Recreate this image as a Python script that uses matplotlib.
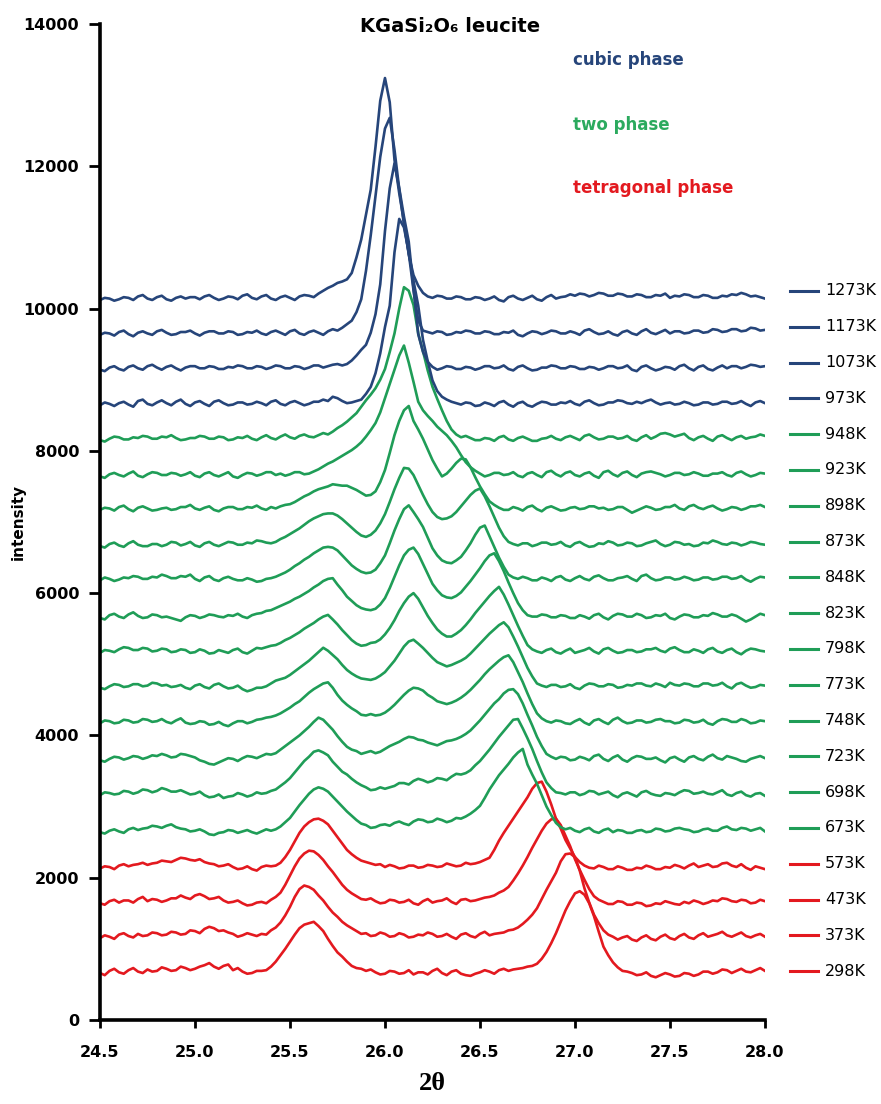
import numpy as np
import matplotlib
matplotlib.use("Agg")
import matplotlib.pyplot as plt

# 2-theta positions of the scan points (deg), step 0.025
two_theta = np.round(np.linspace(24.5, 28.0, 141), 3)

temps = ["298K", "373K", "473K", "573K", "673K", "698K", "723K", "748K", "773K", "798K",
         "823K", "848K", "873K", "898K", "923K", "948K", "973K", "1073K", "1173K", "1273K"]
phases = ["tetragonal"] * 4 + ["two"] * 12 + ["cubic"] * 4
# vertical offset of each pattern (counts)
offsets = [660, 1150, 1640, 2130, 2640, 3160, 3650, 4170, 4670, 5160,
           5650, 6180, 6660, 7170, 7640, 8150, 8640, 9140, 9630, 10120]

# counts above the offset (20 points = 0.5 deg per line)
p298 = [0, -30, 30, 60, 10, -10, 40, 70, 20, 0, 50, 20, 30, 80, 60, 30, 40, 90, 70, 40,
        60, 90, 110, 140, 90, 60, 100, 120, 40, 70, 20, -10, 0, 30, 30, 40, 90, 160, 250, 340,
        440, 540, 630, 680, 700, 720, 660, 590, 480, 380, 290, 230, 160, 100, 70, 60, 30, 50, 10, -20,
        -10, 30, 20, -10, 0, 40, -20, 10, 10, -20, 30, 60, 0, -30, 20, 40, -10, -30, -40, -10,
        10, 40, 20, -10, 40, 60, 30, 50, 60, 70, 90, 100, 130, 200, 296, 420, 560, 720, 880, 1010,
        1120, 1150, 1100, 980, 800, 580, 370, 250, 150, 80, 30, 20, 0, -30, -20, 10, -40, -60, -30, 0,
        -20, -50, -40, 0, -10, -40, -20, 20, 20, -10, 10, 50, 40, 0, 30, 60, 20, 10, 40, 70,
        30]
p373 = [0, 40, 20, -10, 50, 70, 30, 10, 60, 30, 40, 80, 70, 40, 50, 90, 80, 50, 60, 110,
        100, 70, 130, 160, 140, 100, 110, 80, 60, 20, 40, 70, 50, 30, 60, 50, 110, 150, 220, 320,
        440, 580, 690, 740, 720, 680, 600, 530, 440, 360, 300, 230, 180, 140, 100, 60, 70, 30, 40, 80,
        60, 20, 30, 70, 50, 10, 20, 50, 40, 80, 60, 20, 30, 60, 20, -10, 50, 70, 30, 10,
        60, 90, 40, 60, 70, 80, 110, 120, 150, 200, 260, 330, 420, 550, 680, 800, 920, 1080, 1180, 1190,
        1140, 950, 700, 500, 330, 210, 110, 50, 20, -20, 10, 30, -20, -40, 10, 40, -10, -30, 20, 50,
        0, -20, 30, 60, 10, -10, 40, 70, 20, 40, 60, 90, 40, 20, 50, 80, 30, 10, 40, 60,
        20]
p473 = [0, -20, 30, 50, 10, 40, 40, 10, 60, 90, 30, 60, 50, 20, 40, 70, 70, 110, 80, 60,
        110, 130, 100, 60, 70, 90, 40, 10, 20, 40, 0, -30, -20, 10, 20, 0, 50, 90, 150, 260,
        390, 520, 630, 700, 740, 730, 680, 610, 520, 440, 350, 260, 190, 140, 100, 60, 50, 70, 30, 0,
        10, 50, 40, 10, 20, 50, 0, -20, 30, 60, 10, 30, 40, 70, 20, -10, 50, 60, 30, 40,
        60, 80, 90, 110, 150, 180, 230, 320, 420, 530, 650, 780, 900, 1020, 1120, 1180, 1190, 1100, 950, 800,
        620, 470, 330, 200, 100, 50, 20, -10, -10, 30, 20, -20, -20, 10, 0, -40, -30, 0, -10, 30,
        10, -10, -20, 20, 0, 40, 20, -10, 10, 40, 30, 70, 60, 30, 20, 50, 40, 0, 10, 50,
        30]
p573 = [0, 30, 20, -10, 40, 60, 30, 50, 60, 80, 50, 70, 80, 110, 100, 90, 120, 150, 140, 120,
        110, 130, 90, 70, 60, 30, 40, 60, 20, -10, 0, 30, -10, -30, 20, 40, 30, 40, 80, 160,
        260, 380, 500, 590, 650, 690, 700, 670, 620, 530, 440, 350, 260, 200, 150, 110, 90, 70, 50, 60,
        20, 50, 30, 0, 10, 40, 40, 10, 20, 50, 40, 20, 30, 70, 50, 30, 40, 80, 60, 70,
        90, 120, 150, 260, 390, 500, 600, 700, 800, 900, 1000, 1120, 1200, 1220, 1080, 900, 700, 560, 400, 280,
        160, 90, 40, 10, 0, 40, 20, -10, -10, 30, 10, -20, -20, 10, 0, 40, 20, -10, -10, 20,
        10, 50, 30, 0, 40, 70, 20, 40, 60, 20, 30, 70, 80, 40, 20, 60, 10, -20, 30, 10,
        -10]
p673 = [0, -20, 20, 40, 10, -10, 40, 60, 30, 50, 60, 90, 80, 60, 90, 110, 70, 50, 40, 10,
        20, 40, 10, -30, -40, -10, 0, 30, 20, -10, 10, 30, 0, -20, 10, 40, 20, 40, 80, 140,
        200, 290, 380, 460, 540, 600, 630, 610, 570, 500, 430, 360, 290, 230, 170, 120, 100, 60, 70, 100,
        110, 90, 130, 150, 120, 100, 150, 180, 170, 140, 150, 190, 170, 140, 160, 200, 190, 220, 260, 310,
        370, 480, 600, 700, 800, 880, 960, 1050, 1120, 1170, 950, 810, 680, 520, 360, 240, 130, 70, 40, 60,
        20, 0, 40, 60, 10, -10, 30, 50, 0, 30, 20, -10, -10, 20, 30, 0, 10, 50, 40, 10,
        20, 50, 60, 40, 30, 0, 10, 40, 50, 20, 20, 60, 80, 40, 30, 60, 50, 20, 40, 60,
        10]
p698 = [0, 40, 30, 10, 20, 60, 50, 20, 40, 80, 70, 40, 60, 100, 80, 50, 50, 70, 40, 10,
        20, 50, 0, -30, -20, 10, -40, -20, -10, 30, 10, -20, 0, 40, 20, 30, 60, 80, 130, 180,
        240, 320, 400, 480, 540, 610, 630, 600, 560, 470, 400, 330, 290, 230, 180, 140, 110, 70, 80, 110,
        90, 110, 130, 170, 170, 150, 200, 230, 210, 180, 200, 240, 230, 210, 260, 300, 290, 310, 350, 420,
        480, 560, 640, 730, 820, 900, 980, 1060, 1070, 940, 800, 650, 480, 320, 180, 100, 40, 30, 10, 40,
        40, 0, 20, 60, 50, 10, 30, 50, 0, -30, 20, 40, 10, -20, 40, 60, 20, 0, -10, 30,
        20, 0, 40, 70, 60, 20, 30, 50, 20, 10, 40, 70, 10, -10, 30, 50, 0, -20, 20, 30,
        -10]
p723 = [0, -20, 20, 50, 40, 10, 30, 60, 50, 20, 40, 70, 60, 90, 70, 40, 50, 90, 80, 60,
        40, 0, -20, -50, -60, -30, 0, 30, 20, -10, 30, 60, 50, 30, 60, 90, 80, 100, 150, 200,
        250, 300, 350, 410, 470, 540, 600, 570, 500, 430, 340, 260, 190, 150, 130, 90, 110, 130, 100, 120,
        160, 200, 230, 260, 300, 330, 320, 290, 280, 250, 230, 210, 240, 270, 280, 300, 330, 370, 420, 490,
        560, 640, 720, 800, 860, 940, 990, 1000, 930, 800, 640, 490, 330, 200, 90, 50, 20, 50, 40, 0,
        10, 50, 30, 0, 60, 80, 20, -10, 40, 70, 10, -20, 30, 60, 50, 20, 20, 40, 0, -30,
        30, 50, 10, -20, 40, 60, 20, 0, 50, 80, 30, 10, 60, 40, 20, -10, -20, 20, 40, 60,
        30]
p748 = [0, 40, 30, 0, 10, 50, 40, 10, 20, 60, 50, 20, 30, 60, 20, 0, 40, 70, 10, -10,
        0, 30, 20, -20, -10, 20, -20, -40, 0, 30, 30, 0, 20, 50, 60, 80, 90, 110, 140, 180,
        220, 270, 310, 370, 430, 480, 520, 560, 576, 500, 400, 320, 260, 210, 170, 120, 110, 130, 110, 120,
        150, 200, 260, 330, 400, 460, 500, 490, 460, 400, 360, 310, 290, 270, 290, 320, 360, 410, 470, 540,
        610, 690, 760, 820, 880, 930, 956, 860, 720, 580, 420, 270, 140, 70, 30, 10, 40, 30, 0, -10,
        30, 60, 10, -20, 40, 60, 20, -10, 50, 80, 30, 0, 10, 40, 40, 10, 20, 50, 60, 30,
        30, 0, 10, 50, 40, 10, 20, 50, 0, -20, 30, 60, 50, 20, 20, 60, 40, 0, 10, 40,
        30]
p773 = [0, -20, 20, 50, 40, 10, 20, 50, 50, 20, 30, 70, 60, 30, 40, 10, 20, 40, 0, -20,
        30, 50, 10, -10, 40, 60, 20, -10, 0, 30, -20, -50, -30, 0, 0, 20, 60, 100, 120, 140,
        180, 230, 280, 330, 380, 440, 500, 562, 520, 460, 400, 320, 250, 200, 160, 130, 120, 110, 130, 170,
        220, 300, 380, 480, 580, 650, 675, 620, 560, 490, 420, 360, 330, 300, 320, 350, 380, 420, 480, 550,
        620, 690, 760, 820, 880, 920, 850, 720, 580, 430, 280, 160, 60, 30, 10, 40, 40, 10, 20, 50,
        0, -20, 30, 60, 50, 20, 20, 50, 40, 0, 10, 40, 30, 60, 60, 30, 20, 60, 40, 10,
        70, 40, 30, 60, 50, 20, 20, 60, 60, 30, 40, 70, 20, -10, 50, 70, 30, 0, 10, 40,
        30]
p798 = [0, 40, 30, 10, 50, 80, 70, 40, 40, 70, 60, 20, 30, 60, 50, 10, 20, 50, 40, 0,
        10, 50, 30, -10, 0, 40, 20, 0, 40, 60, 10, -10, 30, 70, 60, 80, 100, 110, 140, 180,
        210, 250, 290, 340, 380, 420, 470, 510, 534, 470, 400, 320, 250, 180, 130, 100, 110, 140, 150, 190,
        260, 350, 460, 590, 700, 790, 840, 760, 640, 520, 420, 330, 270, 230, 230, 270, 320, 390, 470, 560,
        640, 720, 800, 870, 928, 820, 680, 530, 380, 240, 110, 50, 20, 0, 40, 60, 10, -10, 30, 60,
        0, 20, 40, 70, 20, -10, 50, 70, 30, 0, 10, 40, 40, 10, 20, 50, 50, 70, 30, 10,
        60, 80, 40, 10, 10, 50, 30, 0, 50, 70, 20, 0, 40, 60, 10, -20, 30, 60, 50, 30,
        20]
p823 = [0, -20, 40, 60, 20, 0, 50, 80, 30, 0, 10, 50, 40, 10, 20, 0, -20, -40, 10, 40,
        30, 0, 20, 50, 40, 20, 10, 40, 30, 60, 20, 0, 40, 60, 70, 100, 110, 140, 170, 200,
        230, 270, 300, 340, 380, 430, 470, 520, 550, 560, 470, 390, 300, 240, 180, 140, 120, 110, 130, 190,
        280, 420, 580, 740, 880, 960, 990, 900, 760, 620, 480, 390, 320, 290, 280, 310, 360, 440, 520, 610,
        700, 800, 880, 910, 800, 660, 500, 350, 210, 110, 40, 20, 20, 50, 40, 10, 10, 40, 30, 0,
        0, 40, 20, -10, 40, 60, 10, -20, 30, 60, 50, 20, 20, 60, 40, 0, 10, 40, 30, 60,
        0, -20, 20, 50, 40, 10, 10, 40, 30, 70, 50, 20, 20, 50, 30, -10, -50, -20, 20, 60,
        40]
p848 = [0, 40, 20, -10, 10, 40, 30, 60, 50, 20, 20, 50, 40, 80, 60, 30, 30, 60, 50, 80,
        20, -10, 40, 60, 10, -10, 30, 50, 20, 0, 0, 30, 10, -20, -10, 20, 30, 50, 80, 110,
        150, 200, 240, 290, 330, 380, 420, 460, 470, 460, 420, 350, 280, 210, 160, 120, 100, 110, 150, 240,
        350, 520, 700, 860, 1000, 1054, 960, 860, 750, 600, 450, 350, 280, 250, 240, 280, 330, 420, 520, 640,
        740, 770, 620, 470, 320, 190, 80, 40, 20, 50, 30, 0, 0, 40, 20, -10, 40, 60, 10, -10,
        30, 60, 20, 0, 50, 70, 30, 0, 0, 30, 40, 60, 20, -10, 60, 80, 30, 0, 10, 40,
        40, 10, 20, 50, 30, 0, 10, 40, 40, 10, 20, 50, 50, 20, 30, 60, 10, -20, 20, 50,
        40]
p873 = [0, -20, 30, 50, 10, -10, 40, 70, 20, 0, 0, 30, 30, 0, 20, 60, 50, 10, 30, 60,
        10, -10, 40, 60, 20, 0, 30, 60, 50, 20, 20, 50, 40, 80, 70, 50, 40, 60, 100, 130,
        170, 210, 250, 300, 350, 390, 420, 450, 460, 460, 430, 380, 320, 260, 200, 150, 130, 160, 220, 320,
        450, 620, 800, 960, 1100, 1090, 1000, 860, 720, 590, 480, 410, 380, 390, 420, 480, 560, 640, 720, 780,
        810, 700, 560, 410, 260, 140, 60, 30, 10, 40, 40, 0, 20, 50, 50, 20, 30, 60, 10, -10,
        40, 60, 20, -10, 0, 40, 30, 70, 50, 10, 20, 50, 40, 0, 10, 40, 60, 80, 30, 0,
        20, 60, 50, 20, 30, 0, 10, 50, 40, 80, 60, 30, 20, 50, 40, 10, 30, 60, 50, 30,
        20]
p898 = [0, 30, 20, -10, 40, 60, 10, -20, 30, 50, 20, -10, 0, 20, 30, 0, 10, 40, 40, 70,
        20, 0, 30, 50, 0, -20, 20, 40, 40, 10, 10, 40, 30, 60, 20, 0, 40, 20, 50, 70,
        80, 110, 150, 190, 220, 260, 290, 310, 330, 360, 350, 340, 340, 310, 280, 240, 200, 210, 260, 390,
        560, 800, 1050, 1250, 1400, 1460, 1250, 1130, 1000, 850, 700, 580, 470, 510, 580, 660, 720, 710, 600, 460,
        330, 220, 120, 70, 30, 0, 0, 40, 20, -10, 40, 60, 10, -20, 30, 50, 20, -10, 0, 30,
        40, 10, 20, 50, 50, 20, 30, 0, 10, 40, 40, 0, -40, -10, 20, 50, 30, 0, 10, 40,
        40, 70, 20, 0, 50, 70, 30, 10, 40, 60, 20, -10, 10, 40, 30, 0, 20, 50, 50, 70,
        40]
p923 = [0, -20, 30, 50, 20, 0, 40, 70, 10, -10, 30, 60, 50, 20, 20, 50, 40, 10, 30, 60,
        10, -10, 40, 60, 20, 0, 30, 60, 0, -20, 20, 50, 40, 10, 30, 60, 60, 20, 40, 10,
        30, 60, 60, 30, 40, 70, 100, 140, 180, 210, 250, 290, 330, 370, 420, 480, 560, 650, 750, 900,
        1100, 1300, 1500, 1700, 1840, 1600, 1330, 1050, 930, 850, 780, 700, 640, 580, 500, 410, 300, 200, 130, 80,
        40, 0, 20, 50, 50, 20, 30, 60, 10, -10, 40, 60, 20, -10, 60, 80, 30, 0, 50, 70,
        20, 0, 40, 60, 10, -20, 60, 80, 30, 0, 50, 70, 20, -10, 40, 60, 70, 50, 30, 0,
        20, 50, 50, 20, 30, 60, 40, 10, 10, 40, 40, 60, 20, 0, 50, 70, 30, 0, 20, 50,
        40]
p948 = [0, -20, 20, 50, 40, 10, 10, 40, 30, 60, 50, 20, 20, 50, 40, 70, 30, 0, 10, 30,
        30, 60, 50, 20, 20, 50, 40, 0, 10, 40, 30, 60, 20, 0, 40, 70, 30, 10, 50, 80,
        40, 20, 60, 80, 50, 40, 70, 100, 80, 120, 170, 210, 260, 320, 380, 470, 560, 640, 730, 850,
        1000, 1240, 1500, 1850, 2150, 2100, 1900, 1500, 1250, 980, 750, 580, 420, 270, 150, 80, 40, 60, 30, 0,
        0, 30, 20, -10, 40, 60, 10, -10, 30, 50, 20, -10, -10, 20, 30, 60, 20, 0, 40, 60,
        30, 0, 60, 80, 40, 10, 20, 50, 50, 20, 30, 60, 10, -10, 40, 70, 20, 50, 90, 100,
        80, 50, 70, 90, 30, 0, 40, 60, 20, -10, 50, 70, 30, 0, 40, 60, 20, 40, 50, 80,
        60]
p973 = [0, 40, 20, -10, 30, 50, 10, -20, 60, 80, 20, 0, 40, 70, 30, 0, 50, 80, 20, -10,
        40, 60, 20, -10, 50, 70, 30, 0, 10, 40, 40, 10, 20, 50, 30, 0, 50, 70, 20, 0,
        40, 60, 30, 0, 20, 50, 50, 80, 60, 120, 100, 60, 30, 40, 60, 80, 160, 260, 450, 730,
        1100, 1400, 2150, 2620, 2500, 2150, 1750, 1400, 920, 620, 350, 200, 120, 80, 50, 30, 10, 40, 30, -10,
        0, 40, 20, -10, 40, 60, 10, -20, 30, 50, 0, -20, 20, 50, 40, 10, 10, 40, 30, 60,
        20, 0, 50, 70, 30, 0, 10, 40, 40, 70, 60, 30, 20, 50, 30, 60, 80, 40, 10, 30,
        40, 10, 20, 50, 30, 0, 10, 40, 40, 10, 20, 50, 50, 20, 30, 60, 20, -10, 40, 60,
        30]
p1073 = [0, -20, 30, 50, 10, -10, 40, 60, 20, 0, 50, 70, 30, 0, 40, 60, 20, -10, 30, 50,
         50, 20, 20, 50, 40, 10, 10, 40, 30, 60, 50, 20, 20, 50, 40, 10, 30, 60, 50, 20,
         20, 50, 40, 10, 30, 60, 60, 30, 50, 70, 80, 60, 80, 130, 200, 280, 350, 520, 780, 1200,
         1950, 2550, 2900, 2550, 2150, 1800, 1150, 500, 250, 110, 40, 0, 20, 50, 40, 10, 10, 40, 30, 0,
         20, 50, 50, 20, 30, 60, 10, -10, 40, 60, 20, -10, 0, 30, 30, 60, 50, 20, 20, 50,
         40, 10, 10, 40, 30, 0, 20, 50, 50, 20, 30, 60, 0, -20, 40, 60, 20, -10, 10, 40,
         30, 0, 50, 70, 20, -10, 40, 60, 10, -10, 30, 60, 20, 50, 50, 20, 40, 70, 60, 40,
         50]
p1173 = [0, 30, 20, -10, 40, 60, 10, -20, 30, 50, 20, 0, 50, 70, 30, 0, 10, 40, 40, 60,
         20, -10, 30, 50, 50, 20, 20, 50, 40, 0, 10, 40, 30, 60, 20, 0, 40, 60, 30, 0,
         50, 70, 20, 0, 40, 60, 30, 0, 50, 80, 60, 100, 150, 200, 320, 500, 900, 1400, 1950, 2500,
         2900, 3050, 2600, 2050, 1550, 1150, 630, 200, 60, 40, 20, 50, 40, 0, 10, 40, 30, 60, 50, 20,
         20, 50, 40, 10, 10, 40, 30, 60, 0, -20, 20, 50, 40, 10, 30, 60, 50, 20, 20, 50,
         30, 0, 60, 80, 40, 10, 20, 50, 10, -10, 40, 60, 20, 0, 50, 80, 30, 10, 40, 70,
         20, 50, 50, 20, 30, 60, 60, 30, 40, 80, 70, 40, 50, 80, 80, 50, 60, 100, 90, 60,
         70]
p1273 = [0, 30, 20, -10, 10, 40, 30, 0, 50, 70, 20, 0, 40, 60, 10, -10, 30, 50, 20, 40,
         40, 10, 50, 70, 30, 0, 20, 50, 40, 10, 60, 80, 30, 10, 50, 70, 20, 0, 40, 60,
         30, 0, 50, 70, 60, 40, 90, 130, 170, 200, 240, 260, 290, 380, 600, 850, 1200, 1550, 2150, 2800,
         3120, 2780, 1970, 1500, 1100, 640, 350, 200, 100, 50, 30, 60, 50, 20, 20, 50, 40, 10, 10, 40,
         30, 0, 20, 50, 0, -20, 40, 60, 20, 0, 30, 60, 10, -10, 40, 70, 20, 40, 50, 80,
         60, 90, 80, 50, 70, 100, 90, 60, 60, 90, 80, 50, 50, 80, 70, 40, 40, 70, 60, 90,
         30, 60, 50, 80, 70, 40, 40, 70, 60, 30, 30, 60, 50, 80, 70, 100, 80, 50, 60, 40,
         20]

profiles = [p298, p373, p473, p573, p673, p698, p723, p748, p773, p798,
            p823, p848, p873, p898, p923, p948, p973, p1073, p1173, p1273]

colors = {"tetragonal": "#E3191F", "two": "#1F9D57", "cubic": "#26457A"}

plt.rcParams['font.family'] = ['DejaVu Sans']

fig = plt.figure(figsize=(8.81, 11.04), dpi=100)
ax = fig.add_axes([0.1135, 0.0761, 0.7548, 0.9022])

for t, ph, off, prof in zip(temps, phases, offsets, profiles):
    ax.plot(two_theta, off + np.array(prof), color=colors[ph], lw=1.9,
            solid_joinstyle='round')

ax.set_xlim(24.5, 28.0)
ax.set_ylim(0, 14000)
xt = np.arange(24.5, 28.01, 0.5)
ax.set_xticks(xt)
ax.set_xticklabels([f"{v:.1f}" for v in xt])
ax.set_yticks(range(0, 14001, 2000))
for s in ['top', 'right']:
    ax.spines[s].set_visible(False)
for s in ['left', 'bottom']:
    ax.spines[s].set_linewidth(2.6)
ax.tick_params(axis='y', direction='out', length=8, width=2, pad=7, labelsize=11.5)
ax.tick_params(axis='x', direction='out', length=6, width=2, pad=12, labelsize=11.5)
for lab in ax.get_xticklabels() + ax.get_yticklabels():
    lab.set_fontweight('bold')

ax.set_xlabel("2θ", family='Liberation Serif', fontweight='bold', fontsize=19, labelpad=9)
fig.text(18 / 881, 1 - 522 / 1104, "intensity", rotation=90, ha='center', va='center',
         fontweight='bold', fontsize=11)

ax.text(0.526, 0.997, "KGaSi₂O₆ leucite", transform=ax.transAxes, ha='center', va='center',
        fontsize=14, fontweight='bold')

# phase notes
ax.text(0.711, 0.964, "cubic phase", transform=ax.transAxes, va='center',
        fontsize=12, fontweight='bold', color=colors["cubic"])
ax.text(0.711, 0.899, "two phase", transform=ax.transAxes, va='center',
        fontsize=12, fontweight='bold', color="#2BAA5E")
ax.text(0.711, 0.835, "tetragonal phase", transform=ax.transAxes, va='center',
        fontsize=12, fontweight='bold', color=colors["tetragonal"])

# legend, top entry = highest temperature
leg_top, leg_step = 0.7319, 0.03594
for k, (t, ph) in enumerate(zip(temps[::-1], phases[::-1])):
    yy = leg_top - k * leg_step
    ax.plot([1.0376, 1.0797], [yy, yy], transform=ax.transAxes, color=colors[ph],
            lw=2.2, clip_on=False)
    ax.text(1.0902, yy, t, transform=ax.transAxes, va='center', ha='left', fontsize=11.5)

fig.savefig("out.png", dpi=100)
